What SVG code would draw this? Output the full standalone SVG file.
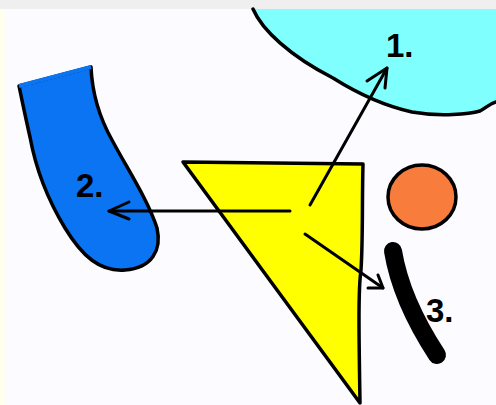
<svg xmlns="http://www.w3.org/2000/svg" width="496" height="405" viewBox="0 0 496 405">
<defs>
<style>
.shape{stroke:#000;stroke-width:3.5;stroke-linejoin:round;stroke-linecap:round}
.lbl{font-family:"Liberation Sans",Arial,sans-serif;font-weight:bold;font-size:33px;fill:#000}
.conn{stroke:#000;stroke-width:3;fill:none;stroke-linecap:round;stroke-linejoin:round}
</style>
</defs>
<rect x="0" y="0" width="496" height="405" fill="#fcfbff"/>
<rect x="0" y="0" width="5" height="405" fill="#fffff0"/>
<rect x="0" y="0" width="496" height="9" fill="#efefef"/>
<g id="node-cyan">
<path d="M253,9 C262,30 290,56 333,78 C360,95 385,106 412,112 C440,117 470,114 480,111 C486,108 489,104 496,102 L496,9 Z" fill="#80ffff"/>
<path class="shape" fill="none" d="M253,9 C262,30 290,56 333,78 C360,95 385,106 412,112 C440,117 470,114 480,111 C486,108 489,104 496,102"/>
<text class="lbl" x="386" y="57">1.</text>
</g>
<g id="node-blue">
<path class="shape" fill="#0a74f2" d="M19,86 L91,67 C92,90 98,115 112,140 C128,170 148,200 157,228 C162,250 152,268 125,270 C100,272 82,256 65,228 C48,200 36,170 30,137 C25,115 22,100 19,86 Z"/>
<path d="M19,86 L91,67" stroke="#0a74f2" stroke-width="4"/>
<text class="lbl" x="76" y="197">2.</text>
</g>
<g id="node-triangle">
<path class="shape" fill="#ffff00" d="M183,162 L363,164 C362,200 363,240 361,270 C358,290 359,340 360,403 Z"/>
</g>
<g id="node-orange">
<ellipse class="shape" cx="422" cy="197" rx="34" ry="32" fill="#f87c3c"/>
</g>
<g id="node-bar">
<path d="M393,251 Q401,300 437,355" stroke="#000" stroke-width="18" fill="none" stroke-linecap="round"/>
<text class="lbl" x="426" y="322">3.</text>
</g>
<g id="connectors">
<path class="conn" d="M310,205 L387,68"/>
<path class="conn" d="M367,81 L387,68 L385,88"/>
<path class="conn" d="M290,211 L109,211"/>
<path class="conn" d="M129,202 L109,211 L129,219"/>
<path class="conn" d="M305,234 L383,288"/>
<path class="conn" d="M378,275 L383,288 L368,288"/>
</g>
</svg>
